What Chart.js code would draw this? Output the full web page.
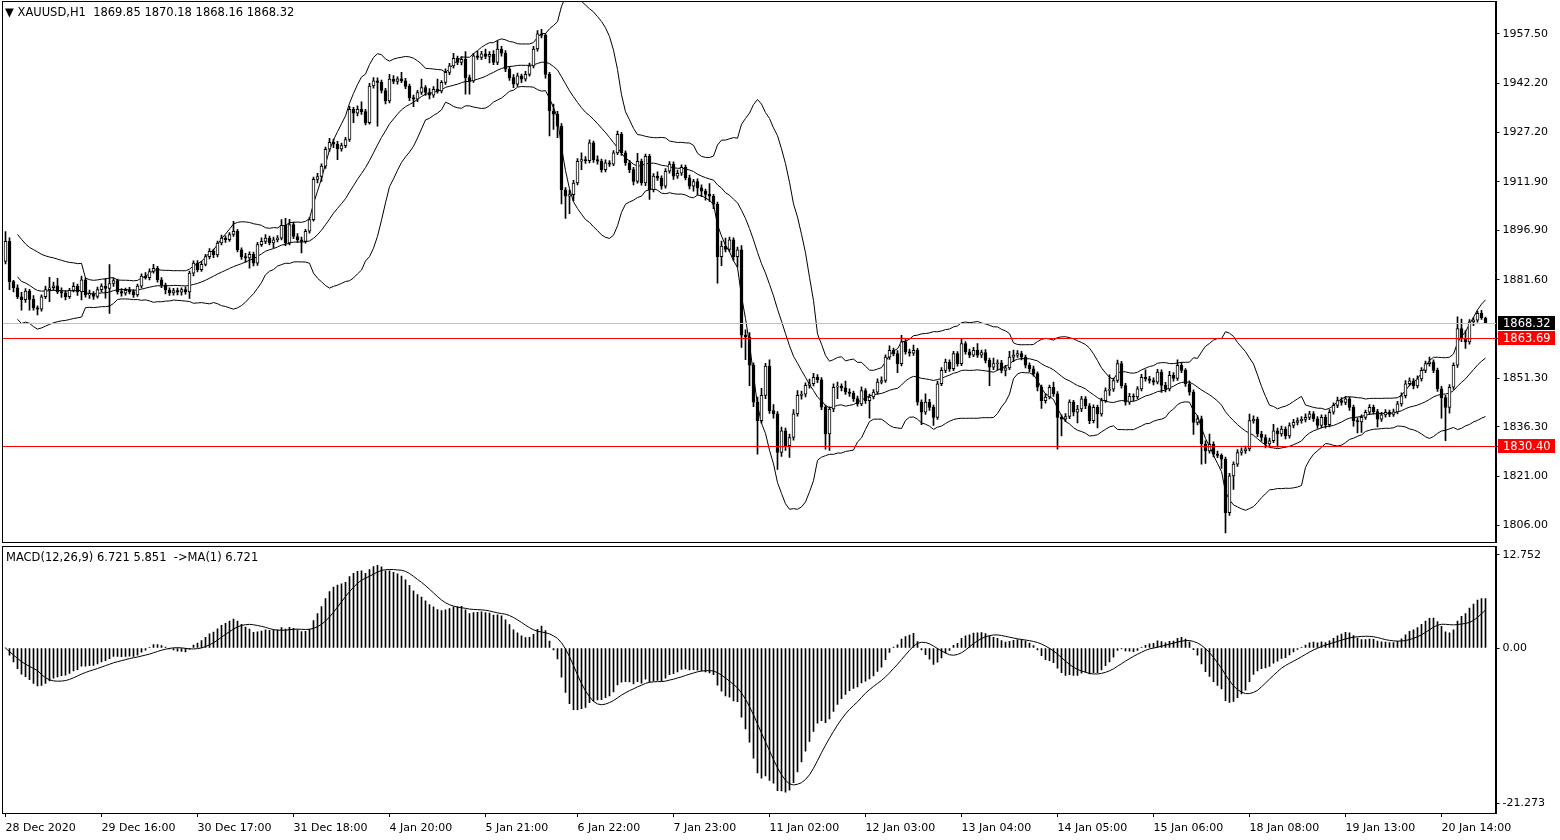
<!DOCTYPE html>
<html>
<head>
<meta charset="utf-8">
<script src="https://cdn.jsdelivr.net/npm/chart.js@4.4.1/dist/chart.umd.min.js"></script>
<style>
  body { margin: 0; background: #fff; width: 1560px; height: 840px; overflow: hidden; position: relative; }
  canvas { position: absolute; left: 0; }
  #price { top: 0; }
  #macd { top: 545px; }
  .lbl { position: absolute; font: 11.5px "DejaVu Sans", sans-serif; color: #000; white-space: pre; }
</style>
</head>
<body>
<canvas id="price" width="1560" height="545"></canvas>
<canvas id="macd" width="1560" height="295"></canvas>
<div class="lbl" style="left:5px;top:5px">▼ XAUUSD,H1  1869.85 1870.18 1868.16 1868.32</div>
<div class="lbl" style="left:6px;top:550px">MACD(12,26,9) 6.721 5.851  -&gt;MA(1) 6.721</div>
<script>
// XAUUSD H1, 371 bars
const opens = [
  1887.3,1893.5,1881.1,1879.2,1876.4,1875.5,1878.2,1875.6,1873.0,1872.6,
  1876.4,1878.6,1879.2,1879.8,1878.0,1877.6,1876.4,1878.4,1879.6,1877.9,
  1881.6,1877.0,1877.3,1876.5,1878.6,1879.7,1879.0,1880.5,1881.4,1878.0,
  1877.5,1878.4,1878.0,1877.0,1879.7,1882.8,1882.3,1884.2,1885.2,1881.6,
  1880.0,1878.5,1877.6,1878.3,1877.8,1878.6,1877.9,1883.7,1886.8,1884.8,
  1886.4,1888.8,1890.4,1889.3,1893.0,1894.5,1894.0,1895.6,1896.6,1890.9,
  1888.8,1888.4,1889.5,1886.8,1892.5,1893.5,1894.5,1893.0,1894.0,1894.5,
  1898.4,1893.0,1898.7,1895.0,1894.0,1893.5,1896.6,1900.2,1912.6,1913.5,
  1916.7,1921.9,1924.0,1923.5,1922.0,1923.0,1924.9,1934.2,1933.0,1934.2,
  1933.5,1930.1,1941.4,1943.0,1942.5,1940.0,1936.8,1943.5,1942.8,1943.6,
  1943.0,1941.3,1937.8,1937.3,1939.4,1940.9,1939.4,1938.6,1940.4,1939.9,
  1942.5,1945.6,1947.6,1949.9,1948.7,1949.6,1944.0,1943.0,1950.7,1950.2,
  1951.3,1950.5,1951.2,1948.7,1952.8,1951.5,1946.6,1944.0,1942.0,1944.5,
  1943.5,1945.0,1947.6,1952.8,1957.5,1957.0,1945.0,1933.7,1932.7,1929.0,
  1909.4,1907.4,1907.9,1911.5,1918.2,1918.7,1918.4,1923.9,1918.7,1918.2,
  1915.6,1917.7,1917.3,1920.8,1926.5,1920.8,1917.7,1915.6,1912.0,1918.2,
  1911.5,1919.7,1909.4,1913.6,1913.0,1910.5,1915.1,1917.3,1913.6,1914.5,
  1916.3,1913.1,1910.5,1911.9,1910.0,1909.0,1908.0,1907.4,1904.9,1888.8,
  1892.0,1891.0,1894.0,1888.8,1890.9,1864.6,1864.0,1855.3,1843.9,1838.2,
  1846.0,1855.0,1841.3,1840.3,1828.4,1835.1,1830.5,1833.0,1840.3,1846.0,
  1846.4,1849.1,1849.6,1851.6,1850.8,1842.4,1834.1,1841.8,1848.5,1848.9,
  1848.3,1847.0,1846.6,1845.0,1843.4,1847.5,1844.4,1845.5,1847.0,1850.1,
  1850.6,1857.8,1859.9,1858.9,1855.8,1862.5,1859.4,1859.0,1859.9,1843.9,
  1840.8,1843.9,1842.3,1839.2,1849.6,1853.7,1856.3,1854.2,1858.9,1855.8,
  1862.0,1859.4,1858.4,1859.9,1858.4,1859.2,1856.8,1854.7,1855.8,1856.0,
  1853.7,1854.5,1857.8,1858.4,1858.9,1857.8,1855.3,1854.2,1852.7,1848.5,
  1844.4,1845.5,1848.5,1846.5,1839.2,1838.7,1839.5,1843.9,1840.8,1841.8,
  1844.9,1842.8,1838.2,1842.3,1840.3,1844.4,1847.5,1847.9,1850.6,1855.8,
  1849.0,1843.9,1845.8,1845.5,1848.0,1851.6,1851.1,1850.6,1850.1,1853.2,
  1849.1,1848.0,1852.2,1851.2,1855.3,1853.7,1849.6,1847.0,1837.7,1838.8,
  1831.0,1828.9,1830.9,1827.9,1827.5,1826.3,1809.8,1821.2,1824.8,1828.4,
  1828.9,1829.5,1838.2,1838.6,1834.1,1833.0,1831.0,1832.0,1835.1,1834.1,
  1835.6,1833.5,1836.7,1837.7,1838.2,1838.6,1839.2,1840.3,1838.8,1836.7,
  1839.2,1837.0,1840.8,1842.9,1844.4,1843.8,1844.9,1842.3,1838.2,1837.8,
  1839.2,1840.8,1842.3,1841.0,1838.7,1840.0,1840.8,1840.1,1840.9,1843.4,
  1845.9,1849.6,1850.5,1848.9,1851.1,1853.7,1855.8,1856.3,1853.7,1848.0,
  1845.3,1842.3,1848.5,1855.3,1866.6,1863.5,1862.5,1868.7,1869.2,1871.3,
  1869.85
];
const highs = [
  1896.5,1894.6,1881.5,1880.1,1877.8,1878.9,1878.7,1876.8,1873.6,1877.0,
  1879.7,1882.4,1880.9,1882.1,1879.2,1878.3,1879.0,1880.8,1880.3,1882.8,
  1882.2,1878.5,1878.0,1879.4,1880.4,1882.0,1886.3,1882.2,1881.9,1878.9,
  1879.1,1879.3,1878.6,1880.3,1883.5,1883.9,1885.0,1886.4,1885.8,1882.3,
  1880.6,1879.2,1879.0,1879.1,1879.2,1879.5,1884.3,1887.5,1887.6,1887.3,
  1889.5,1891.3,1891.1,1893.6,1895.4,1895.2,1896.2,1899.7,1897.2,1891.5,
  1889.8,1890.3,1890.2,1893.2,1894.6,1895.6,1895.1,1894.8,1895.3,1900.2,
  1900.6,1900.3,1899.4,1895.9,1894.8,1897.2,1900.9,1913.3,1914.5,1917.4,
  1922.6,1925.3,1925.0,1924.3,1923.8,1925.6,1935.1,1934.8,1935.3,1936.5,
  1934.2,1942.2,1944.0,1943.9,1943.2,1940.7,1945.0,1944.6,1944.2,1945.6,
  1943.8,1942.0,1938.6,1940.1,1943.5,1941.5,1940.6,1941.2,1943.5,1943.1,
  1946.7,1948.4,1951.5,1950.6,1950.5,1952.0,1944.8,1951.5,1952.2,1952.1,
  1952.8,1952.0,1952.3,1955.3,1953.6,1952.3,1947.4,1944.9,1945.4,1945.1,
  1945.9,1948.5,1953.6,1958.5,1958.9,1957.6,1945.6,1935.8,1933.6,1929.8,
  1910.1,1909.3,1912.3,1919.0,1920.8,1919.6,1924.8,1924.4,1919.9,1918.9,
  1918.6,1918.4,1921.5,1927.5,1927.1,1921.4,1918.5,1916.3,1920.6,1918.9,
  1920.4,1920.3,1914.4,1914.9,1913.7,1915.9,1918.1,1918.0,1915.5,1917.1,
  1917.0,1913.9,1912.6,1912.8,1910.9,1909.6,1911.3,1908.0,1905.6,1893.6,
  1894.5,1894.8,1894.6,1891.7,1892.2,1866.2,1865.4,1856.0,1845.5,1848.2,
  1855.9,1857.0,1843.2,1841.0,1836.2,1835.9,1834.1,1841.6,1847.5,1847.3,
  1849.9,1851.0,1852.8,1852.4,1851.5,1843.0,1842.5,1849.6,1850.1,1849.6,
  1850.4,1848.0,1847.3,1845.8,1848.6,1848.1,1846.4,1847.8,1851.1,1851.7,
  1858.5,1861.3,1860.6,1859.8,1864.5,1863.6,1860.3,1861.5,1860.5,1844.6,
  1846.5,1844.8,1843.0,1850.4,1854.6,1857.2,1857.0,1859.6,1859.5,1863.5,
  1862.6,1860.3,1860.8,1862.0,1860.0,1860.1,1857.5,1857.5,1857.0,1856.8,
  1855.3,1859.6,1860.0,1859.8,1859.6,1858.4,1856.0,1855.0,1853.3,1849.2,
  1846.5,1849.2,1850.1,1847.2,1840.0,1840.4,1844.6,1844.5,1842.9,1845.7,
  1845.6,1843.5,1843.1,1843.0,1845.2,1848.3,1852.3,1851.3,1856.9,1856.5,
  1849.7,1846.6,1846.5,1848.7,1852.5,1853.9,1851.9,1851.4,1854.0,1853.9,
  1850.0,1853.4,1853.0,1857.0,1856.1,1854.3,1850.5,1847.7,1839.8,1839.6,
  1832.0,1834.1,1831.7,1828.8,1828.0,1827.0,1822.0,1825.5,1829.3,1829.8,
  1830.4,1840.2,1839.7,1839.3,1834.9,1833.8,1832.8,1837.1,1835.9,1836.5,
  1836.3,1837.5,1838.6,1839.1,1839.5,1840.3,1841.1,1841.0,1839.5,1840.0,
  1840.0,1841.6,1843.7,1845.5,1845.3,1845.6,1845.5,1843.0,1839.1,1840.0,
  1841.5,1843.2,1843.0,1841.7,1840.8,1841.6,1841.5,1841.8,1844.2,1846.8,
  1850.6,1851.4,1851.2,1852.0,1854.6,1856.6,1857.8,1857.0,1854.4,1848.8,
  1846.0,1849.3,1856.0,1870.2,1869.5,1866.0,1869.4,1870.0,1872.0,1872.2,
  1870.18
];
const lows = [
  1886.5,1878.6,1877.9,1875.8,1872.3,1874.7,1872.3,1872.3,1870.8,1872.0,
  1875.8,1874.9,1878.5,1877.4,1876.2,1875.4,1875.9,1877.9,1876.8,1875.4,
  1876.3,1875.9,1875.6,1876.0,1877.9,1876.0,1871.3,1879.6,1877.2,1876.6,
  1876.9,1877.3,1876.2,1876.5,1879.1,1881.8,1881.6,1883.7,1880.9,1879.2,
  1877.3,1876.8,1876.9,1877.0,1876.9,1877.2,1875.9,1882.8,1884.1,1884.2,
  1885.9,1888.1,1888.5,1888.7,1892.4,1893.2,1893.5,1895.0,1890.2,1887.9,
  1887.1,1885.2,1885.9,1886.1,1891.9,1892.8,1892.4,1891.5,1893.3,1893.9,
  1892.2,1892.4,1894.3,1893.2,1889.9,1892.9,1896.0,1899.7,1911.5,1912.0,
  1916.0,1921.2,1922.4,1918.7,1921.3,1922.4,1924.3,1930.1,1932.2,1932.6,
  1929.4,1929.6,1940.7,1929.0,1939.3,1935.9,1936.2,1942.1,1942.0,1942.4,
  1940.6,1936.9,1935.0,1936.6,1938.8,1938.5,1937.4,1937.9,1939.2,1939.3,
  1941.9,1944.9,1946.9,1948.0,1947.9,1938.9,1938.9,1942.5,1949.6,1949.5,
  1949.8,1948.5,1948.0,1948.0,1950.6,1945.8,1943.1,1940.9,1941.3,1942.4,
  1942.9,1944.4,1947.0,1952.1,1956.2,1943.8,1926.0,1928.0,1925.5,1905.0,
  1900.6,1902.0,1906.0,1910.9,1915.6,1917.5,1917.7,1917.8,1917.3,1914.8,
  1914.9,1916.6,1916.8,1920.2,1920.0,1916.9,1914.7,1910.9,1911.4,1910.8,
  1910.7,1906.4,1908.7,1912.3,1909.6,1909.9,1914.5,1912.6,1912.9,1913.8,
  1912.4,1909.7,1909.0,1907.8,1907.3,1906.2,1905.8,1903.6,1880.6,1886.0,
  1890.2,1890.3,1887.6,1885.5,1860.8,1857.0,1849.0,1842.5,1827.9,1837.4,
  1845.0,1840.4,1839.0,1823.2,1827.2,1829.0,1826.9,1832.2,1839.6,1844.8,
  1845.5,1848.2,1848.9,1849.9,1841.6,1829.4,1829.0,1841.0,1845.0,1847.4,
  1846.3,1845.7,1844.1,1842.7,1842.8,1843.5,1839.0,1844.9,1846.4,1849.5,
  1850.0,1857.1,1858.2,1853.0,1855.1,1858.7,1858.1,1858.3,1843.0,1837.0,
  1840.1,1841.4,1836.7,1838.6,1849.0,1853.0,1853.4,1853.6,1855.0,1855.2,
  1858.7,1857.6,1857.9,1857.7,1857.6,1856.0,1849.0,1853.9,1853.8,1852.9,
  1852.0,1853.9,1856.4,1857.7,1856.9,1854.5,1853.3,1851.9,1847.4,1842.0,
  1843.6,1844.9,1845.7,1829.4,1833.5,1837.9,1838.8,1839.7,1837.5,1841.0,
  1841.9,1837.3,1837.5,1836.0,1839.6,1843.8,1846.0,1847.2,1850.0,1848.2,
  1843.0,1843.2,1844.4,1844.9,1847.4,1850.4,1849.8,1849.2,1849.5,1846.9,
  1847.1,1847.4,1850.4,1850.6,1853.0,1848.8,1846.1,1834.0,1836.9,1824.8,
  1825.0,1828.2,1827.0,1826.8,1823.5,1803.6,1809.0,1817.0,1824.1,1827.6,
  1828.1,1828.9,1837.4,1833.3,1831.9,1829.8,1830.2,1831.4,1830.0,1833.4,
  1832.6,1832.8,1836.0,1836.9,1837.4,1837.8,1838.5,1838.0,1835.8,1836.0,
  1835.9,1836.3,1840.2,1842.2,1843.0,1843.1,1841.4,1836.5,1834.4,1834.6,
  1838.6,1840.1,1840.2,1836.3,1838.0,1839.3,1839.4,1839.5,1840.3,1842.7,
  1845.2,1848.9,1848.0,1848.3,1850.4,1853.0,1855.0,1853.0,1847.2,1839.0,
  1832.0,1840.5,1847.8,1854.6,1862.6,1860.5,1861.8,1867.5,1868.6,1869.4,
  1868.16
];
const closes = [
  1893.5,1881.1,1879.2,1876.4,1875.5,1878.2,1875.6,1873.0,1872.6,1876.4,
  1878.6,1879.2,1879.8,1878.0,1877.6,1876.4,1878.4,1879.6,1877.9,1881.6,
  1877.0,1877.3,1876.5,1878.6,1879.7,1879.0,1880.5,1881.4,1878.0,1877.5,
  1878.4,1878.0,1877.0,1879.7,1882.8,1882.3,1884.2,1885.2,1881.6,1880.0,
  1878.5,1877.6,1878.3,1877.8,1878.6,1877.9,1883.7,1886.8,1884.8,1886.4,
  1888.8,1890.4,1889.3,1893.0,1894.5,1894.0,1895.6,1896.6,1890.9,1888.8,
  1888.4,1889.5,1886.8,1892.5,1893.5,1894.5,1893.0,1894.0,1894.5,1898.4,
  1893.0,1898.7,1895.0,1894.0,1893.5,1896.6,1900.2,1912.6,1913.5,1916.7,
  1921.9,1924.0,1923.5,1922.0,1923.0,1924.9,1934.2,1933.0,1934.2,1933.5,
  1930.1,1941.4,1943.0,1942.5,1940.0,1936.8,1943.5,1942.8,1943.6,1943.0,
  1941.3,1937.8,1937.3,1939.4,1940.9,1939.4,1938.6,1940.4,1939.9,1942.5,
  1945.6,1947.6,1949.9,1948.7,1949.6,1944.0,1943.0,1950.7,1950.2,1951.3,
  1950.5,1951.2,1948.7,1952.8,1951.5,1946.6,1944.0,1942.0,1944.5,1943.5,
  1945.0,1947.6,1952.8,1957.5,1957.0,1945.0,1933.7,1932.7,1929.0,1909.4,
  1907.4,1907.9,1911.5,1918.2,1918.7,1918.4,1923.9,1918.7,1918.2,1915.6,
  1917.7,1917.3,1920.8,1926.5,1920.8,1917.7,1915.6,1912.0,1918.2,1911.5,
  1919.7,1909.4,1913.6,1913.0,1910.5,1915.1,1917.3,1913.6,1914.5,1916.3,
  1913.1,1910.5,1911.9,1910.0,1909.0,1908.0,1907.4,1904.9,1888.8,1892.0,
  1891.0,1894.0,1888.8,1890.9,1864.6,1864.0,1855.3,1843.9,1838.2,1846.0,
  1855.0,1841.3,1840.3,1828.4,1835.1,1830.5,1833.0,1840.3,1846.0,1846.4,
  1849.1,1849.6,1851.6,1850.8,1842.4,1834.1,1841.8,1848.5,1848.9,1848.3,
  1847.0,1846.6,1845.0,1843.4,1847.5,1844.4,1845.5,1847.0,1850.1,1850.6,
  1857.8,1859.9,1858.9,1855.8,1862.5,1859.4,1859.0,1859.9,1843.9,1840.8,
  1843.9,1842.3,1839.2,1849.6,1853.7,1856.3,1854.2,1858.9,1855.8,1862.0,
  1859.4,1858.4,1859.9,1858.4,1859.2,1856.8,1854.7,1855.8,1856.0,1853.7,
  1854.5,1857.8,1858.4,1858.9,1857.8,1855.3,1854.2,1852.7,1848.5,1844.4,
  1845.5,1848.5,1846.5,1839.2,1838.7,1839.5,1843.9,1840.8,1841.8,1844.9,
  1842.8,1838.2,1842.3,1840.3,1844.4,1847.5,1847.9,1850.6,1855.8,1849.0,
  1843.9,1845.8,1845.5,1848.0,1851.6,1851.1,1850.6,1850.1,1853.2,1849.1,
  1848.0,1852.2,1851.2,1855.3,1853.7,1849.6,1847.0,1837.7,1838.8,1831.0,
  1828.9,1830.9,1827.9,1827.5,1826.3,1809.8,1821.2,1824.8,1828.4,1828.9,
  1829.5,1838.2,1838.6,1834.1,1833.0,1831.0,1832.0,1835.1,1834.1,1835.6,
  1833.5,1836.7,1837.7,1838.2,1838.6,1839.2,1840.3,1838.8,1836.7,1839.2,
  1837.0,1840.8,1842.9,1844.4,1843.8,1844.9,1842.3,1838.2,1837.8,1839.2,
  1840.8,1842.3,1841.0,1838.7,1840.0,1840.8,1840.1,1840.9,1843.4,1845.9,
  1849.6,1850.5,1848.9,1851.1,1853.7,1855.8,1856.3,1853.7,1848.0,1845.3,
  1842.3,1848.5,1855.3,1866.6,1863.5,1862.5,1868.7,1869.2,1871.3,1869.85,
  1868.32
];

// time axis labels and the bar they sit on
const timeLabels = ['28 Dec 2020','29 Dec 16:00','30 Dec 17:00','31 Dec 18:00','4 Jan 20:00','5 Jan 21:00',
  '6 Jan 22:00','7 Jan 23:00','11 Jan 02:00','12 Jan 03:00','13 Jan 04:00','14 Jan 05:00',
  '15 Jan 06:00','18 Jan 08:00','19 Jan 13:00','20 Jan 14:00'];
const timeLabelBars = [0,24,48,72,96,120,143,167,191,215,239,263,287,311,335,359];

// right axis ticks
const priceTicks = [1806.00,1821.00,1836.30,1851.30,1881.60,1896.90,1911.90,1927.20,1942.20,1957.50];
const macdTicks = [-21.273, 0, 12.752];

// horizontal levels: current bid, two red lines
const bidPrice = 1868.32;
const redLevels = [1863.69, 1830.40];

const N = closes.length;
const labels = [];
for (let i = 0; i < N + 2; i++) labels.push('');
timeLabelBars.forEach((b, k) => { labels[b] = timeLabels[k]; });

// Bollinger bands (20, 2) on close
const bbUp = [], bbMid = [], bbLow = [];
for (let i = 0; i < N; i++) {
  if (i < 3) { bbUp.push(null); bbMid.push(null); bbLow.push(null); continue; }
  const w = closes.slice(Math.max(0, i - 19), i + 1);
  const m = w.reduce((a, b) => a + b, 0) / w.length;
  const sd = Math.sqrt(w.reduce((a, b) => a + (b - m) * (b - m), 0) / w.length);
  bbMid.push(m); bbUp.push(m + 2 * sd); bbLow.push(m - 2 * sd);
}

// MACD (12, 26, 9), signal = SMA of main
const macd = [], signal = [];
let e12 = closes[0], e26 = closes[0];
for (let i = 0; i < N; i++) {
  e12 += (closes[i] - e12) * 2 / 13;
  e26 += (closes[i] - e26) * 2 / 27;
  macd.push(e12 - e26);
  const w = macd.slice(Math.max(0, i - 8));
  signal.push(w.reduce((a, b) => a + b, 0) / w.length);
}

const FONT = { family: 'DejaVu Sans', size: 11 };

const frame = {
  id: 'frame',
  afterDraw(chart) {
    const { ctx, chartArea: a } = chart;
    ctx.save();
    ctx.strokeStyle = '#000';
    ctx.lineWidth = 1;
    ctx.strokeRect(Math.floor(a.left) - 1 + 0.5, Math.floor(a.top) - 1 + 0.5,
      Math.round(a.right) - Math.floor(a.left) + 1, Math.round(a.bottom) - Math.floor(a.top) + 1);
    ctx.restore();
  }
};

const levels = {
  id: 'levels',
  afterDatasetsDraw(chart) {
    const { ctx, chartArea: a, scales: { y } } = chart;
    ctx.save();
    const line = (v, c) => {
      const py = Math.round(y.getPixelForValue(v));
      ctx.fillStyle = c;
      ctx.fillRect(Math.floor(a.left), py, Math.round(a.right) + 4 - Math.floor(a.left), 1);
    };
    line(bidPrice, '#c0c0c0');
    redLevels.forEach(v => line(v, '#ff0000'));
    ctx.restore();
  },
  afterDraw(chart) {
    const { ctx, chartArea: a, scales: { y } } = chart;
    ctx.save();
    ctx.font = '11.5px "DejaVu Sans"';
    ctx.textBaseline = 'middle';
    const box = (v, c) => {
      const py = Math.round(y.getPixelForValue(v));
      ctx.fillStyle = c;
      ctx.fillRect(Math.round(a.right) + 2, py - 7, 57, 14);
      ctx.fillStyle = '#fff';
      ctx.fillText(v.toFixed(2), Math.round(a.right) + 7, py + 1);
    };
    box(bidPrice, '#000');
    redLevels.forEach(v => box(v, '#ff0000'));
    ctx.restore();
  }
};

const yAxisBase = {
  position: 'right',
  grid: { drawOnChartArea: false, drawTicks: true, tickLength: 4, color: '#000' },
  border: { display: true, color: '#000' },
  afterFit: s => { s.width = 64.5; s.paddingTop = 0; s.paddingBottom = 0; }
};

new Chart(document.getElementById('price'), {
  type: 'bar',
  data: {
    labels: labels,
    datasets: [
      {
        type: 'bar', label: 'body', order: 0, grouped: false,
        data: opens.map((o, i) => [o, closes[i]]),
        backgroundColor: opens.map((o, i) => closes[i] >= o ? '#ffffff' : '#000000'),
        borderColor: '#000', borderWidth: 1, borderSkipped: false, barThickness: 3
      },
      {
        type: 'bar', label: 'wick', order: 1, grouped: false,
        data: lows.map((l, i) => [l, highs[i]]),
        backgroundColor: '#000', borderWidth: 0, barThickness: 1
      },
      { type: 'line', label: 'upper', order: 2, data: bbUp, borderColor: '#000', borderWidth: 1, pointRadius: 0, spanGaps: true },
      { type: 'line', label: 'mid', order: 2, data: bbMid, borderColor: '#000', borderWidth: 1, pointRadius: 0, spanGaps: true },
      { type: 'line', label: 'lower', order: 2, data: bbLow, borderColor: '#000', borderWidth: 1, pointRadius: 0, spanGaps: true }
    ]
  },
  options: {
    responsive: false, animation: false, events: [],
    layout: { padding: { left: 3.5, top: 2, right: 0, bottom: 3 } },
    plugins: { legend: { display: false }, tooltip: { enabled: false } },
    scales: {
      x: { display: false, offset: true },
      y: Object.assign({}, yAxisBase, {
        min: 1800.79, max: 1967.30,
        afterBuildTicks: s => { s.ticks = priceTicks.map(v => ({ value: v })); },
        ticks: { color: '#000', font: FONT, padding: 3, callback: v => v.toFixed(2) }
      })
    }
  },
  plugins: [levels, frame]
});

new Chart(document.getElementById('macd'), {
  type: 'bar',
  data: {
    labels: labels,
    datasets: [
      { type: 'line', label: 'signal', order: 0, data: signal, borderColor: '#000', borderWidth: 1, pointRadius: 0 },
      { type: 'bar', label: 'macd', order: 1, data: macd, backgroundColor: '#000', borderWidth: 0, barThickness: 1 }
    ]
  },
  options: {
    responsive: false, animation: false, events: [],
    layout: { padding: { left: 3.5, top: 2, right: 0, bottom: 0 } },
    plugins: { legend: { display: false }, tooltip: { enabled: false } },
    scales: {
      x: {
        offset: true,
        grid: {
          offset: false, drawOnChartArea: false, tickLength: 4,
          color: c => (c.tick && c.tick.label) ? '#000' : 'rgba(0,0,0,0)'
        },
        border: { display: true, color: '#000' },
        ticks: {
          autoSkip: false, maxRotation: 0, minRotation: 0, align: 'start', padding: 5,
          color: '#000', font: FONT, callback: (v, i) => labels[i]
        },
        afterFit: s => { s.height = 27; s.paddingLeft = 0; s.paddingRight = 0; }
      },
      y: Object.assign({}, yAxisBase, {
        min: -22.6, max: 13.84,
        afterBuildTicks: s => { s.ticks = macdTicks.map(v => ({ value: v })); },
        ticks: { color: '#000', font: FONT, padding: 3, callback: v => v === 0 ? '0.00' : String(v) }
      })
    }
  },
  plugins: [frame]
});
</script>
</body>
</html>
